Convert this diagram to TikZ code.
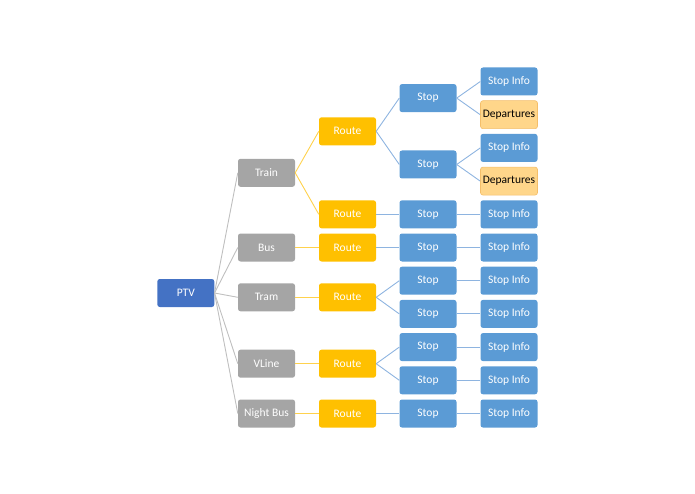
\documentclass[tikz,border=0pt]{standalone}
\usepackage{fontspec}
\setmainfont{Carlito}
\definecolor{ptvblue}{HTML}{4472C4}
\definecolor{greybox}{HTML}{A5A5A5}
\definecolor{orangebox}{HTML}{FFC000}
\definecolor{bluebox}{HTML}{5B9BD5}
\definecolor{depfill}{HTML}{FFD68A}
\definecolor{depline}{HTML}{F4BE6A}
\definecolor{greyline}{HTML}{BFBFBF}
\definecolor{yelline}{HTML}{FFD24D}
\definecolor{blueline}{HTML}{8EB4E0}
\begin{document}
\begin{tikzpicture}[x=1pt,y=-1pt,
  box/.style={minimum width=57pt,minimum height=28pt,rounded corners=2.5pt,inner sep=0pt,font=\fontsize{11.5}{13}\selectfont,text=white},
  lvz/.style={box,fill=ptvblue},
  lva/.style={box,fill=greybox},
  lvb/.style={box,fill=orangebox},
  lvc/.style={box,fill=bluebox},
  lvd/.style={box,fill=depfill,draw=depline,line width=0.6pt,text=black},
  ga/.style={greyline,line width=0.9pt},
  ya/.style={yelline,line width=0.9pt},
  ba/.style={blueline,line width=0.9pt}]
\useasboundingbox (0,0) rectangle (695,494);
% level 4
\node[lvc] (i0) at (509,81.5) {Stop Info};
\node[lvd] (d1) at (509,114.7) {Departures};
\node[lvc] (i2) at (509,147.9) {Stop Info};
\node[lvd] (d3) at (509,181.1) {Departures};
\node[lvc] (i4) at (509,214.3) {Stop Info};
\node[lvc] (i5) at (509,247.5) {Stop Info};
\node[lvc] (i6) at (509,280.7) {Stop Info};
\node[lvc] (i7) at (509,313.9) {Stop Info};
\node[lvc] (i8) at (509,347.1) {Stop Info};
\node[lvc] (i9) at (509,380.3) {Stop Info};
\node[lvc] (i10) at (509,413.5) {Stop Info};
% level 3
\node[lvc] (s1) at (428,98.1) {Stop};
\node[lvc] (s2) at (428,164.5) {Stop};
\node[lvc] (s3) at (428,214.3) {Stop};
\node[lvc] (s4) at (428,247.5) {Stop};
\node[lvc] (s5) at (428,280.7) {Stop};
\node[lvc] (s6) at (428,313.9) {Stop};
\node[lvc] (s7) at (428,347.1) {Stop};
\node[lvc] (s8) at (428,380.3) {Stop};
\node[lvc] (s9) at (428,413.5) {Stop};
% level 2
\node[lvb] (r1) at (347.5,131.3) {Route};
\node[lvb] (r2) at (347.5,214.3) {Route};
\node[lvb] (r3) at (347.5,247.5) {Route};
\node[lvb] (r4) at (347.5,297.3) {Route};
\node[lvb] (r5) at (347.5,363.7) {Route};
\node[lvb] (r6) at (347.5,413.5) {Route};
% level 1
\node[lva] (train) at (266.5,172.8) {Train};
\node[lva] (bus) at (266.5,247.5) {Bus};
\node[lva] (tram) at (266.5,297.3) {Tram};
\node[lva] (vline) at (266.5,363.7) {VLine};
\node[lva] (night) at (266.5,413.5) {Night Bus};
% root
\node[lvz] (ptv) at (185.8,293) {PTV};
% connectors
\foreach \c in {train,bus,tram,vline,night} \draw[ga] (ptv.east) -- (\c.west);
\draw[ya] (train.east) -- (r1.west);
\draw[ya] (train.east) -- (r2.west);
\draw[ya] (bus.east) -- (r3.west);
\draw[ya] (tram.east) -- (r4.west);
\draw[ya] (vline.east) -- (r5.west);
\draw[ya] (night.east) -- (r6.west);
\draw[ba] (r1.east) -- (s1.west);
\draw[ba] (r1.east) -- (s2.west);
\draw[ba] (r2.east) -- (s3.west);
\draw[ba] (r3.east) -- (s4.west);
\draw[ba] (r4.east) -- (s5.west);
\draw[ba] (r4.east) -- (s6.west);
\draw[ba] (r5.east) -- (s7.west);
\draw[ba] (r5.east) -- (s8.west);
\draw[ba] (r6.east) -- (s9.west);
\draw[ba] (s1.east) -- (i0.west);
\draw[ba] (s1.east) -- (d1.west);
\draw[ba] (s2.east) -- (i2.west);
\draw[ba] (s2.east) -- (d3.west);
\draw[ba] (s3.east) -- (i4.west);
\draw[ba] (s4.east) -- (i5.west);
\draw[ba] (s5.east) -- (i6.west);
\draw[ba] (s6.east) -- (i7.west);
\draw[ba] (s7.east) -- (i8.west);
\draw[ba] (s8.east) -- (i9.west);
\draw[ba] (s9.east) -- (i10.west);
\end{tikzpicture}
\end{document}
